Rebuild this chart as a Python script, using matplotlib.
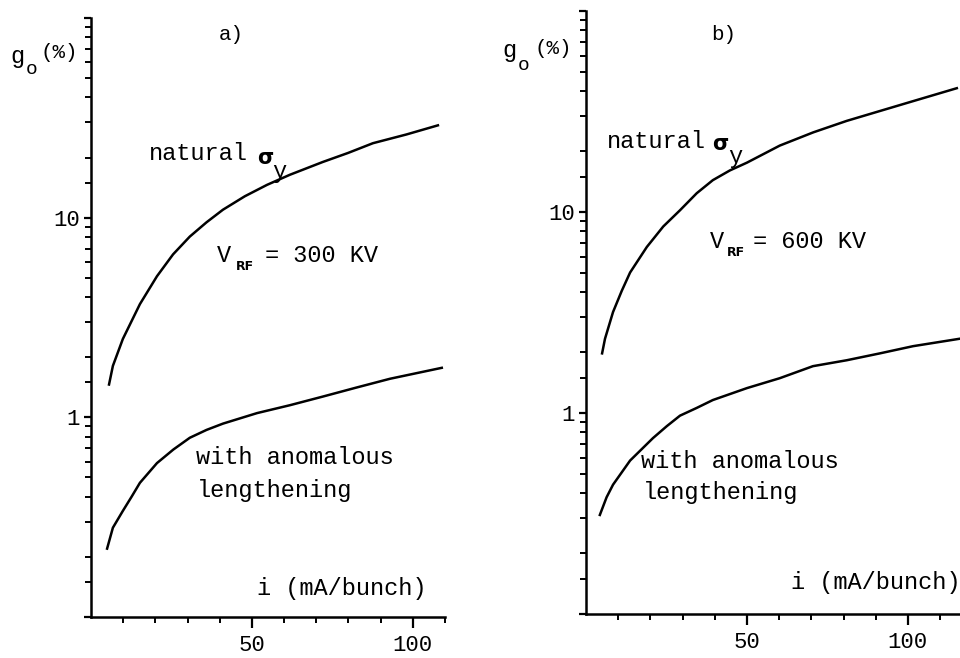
import numpy as np
import matplotlib.pyplot as plt
from matplotlib.ticker import FixedLocator, FixedFormatter, NullFormatter

W, H = 960, 658

# panel a) V_RF = 300 KV  (i in mA/bunch, g0 in %)
i_a_nat = [5.6, 6.8, 9.9, 15.2, 20.5, 25.5, 30.7, 35.9, 41.0, 47.8, 54.7, 61.8,
           72.0, 79.9, 87.6, 98.0, 107.8]
g_a_nat = [1.46, 1.81, 2.47, 3.69, 5.09, 6.55, 8.04, 9.48, 10.96, 12.8, 14.6, 16.4,
           19.0, 21.1, 23.6, 26.1, 29.0]
i_a_anom = [5.0, 6.8, 9.9, 12.6, 15.2, 20.5, 25.6, 30.7, 35.9, 41.0, 51.6, 61.8,
            72.0, 82.5, 92.9, 109.0]
g_a_anom = [0.22, 0.28, 0.34, 0.40, 0.47, 0.59, 0.69, 0.79, 0.865, 0.93, 1.05, 1.15,
            1.27, 1.41, 1.56, 1.77]

# panel b) V_RF = 600 KV
i_b_nat = [5.0, 5.9, 8.4, 11.1, 13.7, 18.9, 24.0, 29.2, 34.4, 39.4, 44.7, 50.0,
           60.2, 70.6, 81.0, 91.3, 101.6, 115.2]
g_b_nat = [1.98, 2.34, 3.18, 4.05, 5.0, 6.7, 8.47, 10.2, 12.4, 14.4, 16.1, 17.6,
           21.4, 24.9, 28.4, 31.8, 35.6, 41.3]
i_b_anom = [4.3, 6.4, 8.4, 13.7, 20.8, 25.1, 29.2, 34.4, 39.4, 50.0, 60.2, 70.5,
            81.0, 91.3, 101.6, 116.0]
g_b_anom = [0.311, 0.381, 0.44, 0.58, 0.75, 0.86, 0.97, 1.06, 1.16, 1.33, 1.49, 1.71,
            1.83, 1.98, 2.15, 2.34]

x_major = [50, 100]
x_major_labels = ['50', '100']
x_minor = [10, 20, 30, 40, 60, 70, 80, 90, 110]
y_major = [0.1, 1, 10, 100]
y_major_labels = ['', '1', '10', '']
mant = [1.5, 2, 3, 4, 5, 6, 7, 8, 9]
y_minor = [m * d for d in [0.1, 1, 10] for m in mant]

MONO = 'Liberation Mono'
FS = 17

fig = plt.figure(figsize=(W / 100, H / 100), dpi=100)


def put(px, py, s, **kw):
    opts = dict(family=MONO, fontsize=FS, va='center', ha='left')
    opts.update(kw)
    fig.text(px / W, 1 - py / H, s, **opts)


def setup(ax, xmax):
    ax.set_yscale('log')
    ax.set_xlim(0, xmax)
    ax.set_ylim(0.1, 100)
    for s in ['top', 'right']:
        ax.spines[s].set_visible(False)
    for s in ['left', 'bottom']:
        ax.spines[s].set_linewidth(1.8)
    ax.xaxis.set_major_locator(FixedLocator(x_major))
    ax.xaxis.set_major_formatter(FixedFormatter(x_major_labels))
    ax.xaxis.set_minor_locator(FixedLocator(x_minor))
    ax.xaxis.set_minor_formatter(NullFormatter())
    ax.yaxis.set_major_locator(FixedLocator(y_major))
    ax.yaxis.set_major_formatter(FixedFormatter(y_major_labels))
    ax.yaxis.set_minor_locator(FixedLocator(y_minor))
    ax.yaxis.set_minor_formatter(NullFormatter())
    ax.tick_params(axis='x', which='major', direction='out', length=8, width=1.6, pad=5)
    ax.tick_params(axis='x', which='minor', direction='out', length=4, width=1.4)
    ax.tick_params(axis='y', which='major', direction='out', length=5, width=1.6, pad=3)
    ax.tick_params(axis='y', which='minor', direction='out', length=4, width=1.4)
    for lab in ax.get_xticklabels() + ax.get_yticklabels():
        lab.set_family(MONO)
        lab.set_fontsize(16)
    ax.patch.set_alpha(0)


# left panel a)
ax1 = fig.add_axes([91 / W, 1 - 617 / H, 354 / W, 599 / H])
setup(ax1, 110)
ax1.plot(i_a_nat, g_a_nat, color='black', lw=1.8)
ax1.plot(i_a_anom, g_a_anom, color='black', lw=1.8)

# right panel b)
ax2 = fig.add_axes([586 / W, 1 - 614 / H, 375 / W, 603 / H])
setup(ax2, 116.5)
ax2.plot(i_b_nat, g_b_nat, color='black', lw=1.8)
ax2.plot(i_b_anom, g_b_anom, color='black', lw=1.8)

# annotations, panel a)
put(10, 57, 'g')
put(26, 69, 'o', fontsize=14)
put(41, 53, '(%)', fontsize=15)
put(219, 35, 'a)', fontsize=15)
put(149, 154, 'natural')
put(257, 158, 'σ', family='DejaVu Sans', fontweight='bold', fontsize=15)
put(272, 171, 'y')
put(217, 255, 'V')
put(236, 266, 'RF', family='DejaVu Sans', fontweight='bold', fontsize=9)
put(265, 255, '= 300 KV')
put(196, 457, 'with anomalous')
put(197, 490, 'lengthening')
put(257, 588, 'i (mA/bunch)')

# annotations, panel b)
put(502, 50, 'g')
put(518, 66, 'o', fontsize=14)
put(534, 48, '(%)', fontsize=15)
put(711, 35, 'b)', fontsize=15)
put(607, 142, 'natural')
put(712, 144, 'σ', family='DejaVu Sans', fontweight='bold', fontsize=15)
put(728, 156, 'y')
put(710, 242, 'V')
put(727, 253, 'RF', family='DejaVu Sans', fontweight='bold', fontsize=9)
put(753, 242, '= 600 KV')
put(641, 462, 'with anomalous')
put(643, 493, 'lengthening')
put(791, 583, 'i (mA/bunch)')

fig.savefig('out.png', dpi=100)
